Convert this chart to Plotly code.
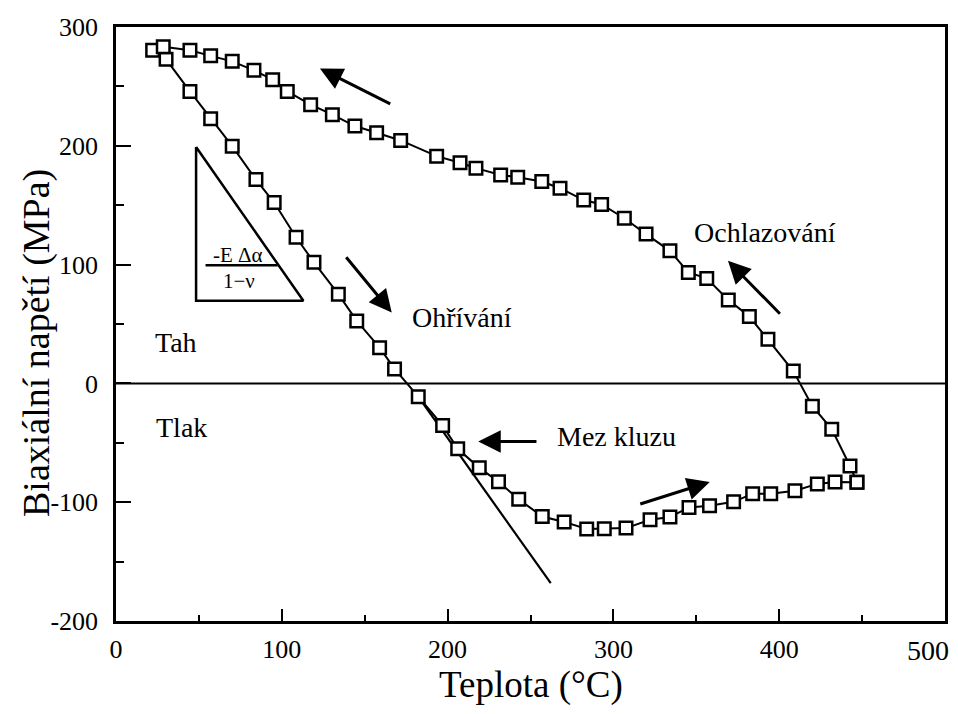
import plotly.graph_objects as go

# Heating branch (Ohřívání): temperature (°C) and stress (MPa)
heat_T = [22.1, 30.2, 44.6, 57.1, 70.1, 84.4, 95.4, 108.6, 119.4, 134.1, 145.2, 159.0, 168.0,
          182.3, 197.0, 206.1, 219.1, 230.7, 242.9, 257.1, 270.3, 283.9, 294.5, 307.6, 322.1,
          334.1, 345.6, 358.0, 372.5, 384.0, 394.9, 409.5, 423.0, 433.7, 446.9]
heat_S = [280.4, 272.8, 245.8, 222.8, 199.7, 171.6, 152.2, 123.0, 101.9, 75.1, 52.6, 30.1, 12.2,
          -11.2, -35.4, -55.1, -71.1, -82.7, -97.6, -112.0, -116.6, -122.6, -122.4, -121.8, -114.8,
          -112.5, -104.4, -103.0, -99.7, -92.8, -92.8, -90.3, -84.6, -83.0, -83.3]

# Cooling branch (Ochlazování)
cool_T = [446.9, 442.7, 431.7, 420.0, 408.5, 393.2, 382.0, 369.3, 356.3, 345.2, 334.1, 319.7,
          306.6, 292.9, 282.1, 267.8, 256.8, 242.3, 232.0, 217.1, 207.5, 193.4, 171.7, 157.2,
          144.1, 130.5, 117.4, 103.3, 94.5, 83.2, 70.1, 57.1, 44.6, 28.5]
cool_S = [-83.3, -69.5, -38.5, -19.2, 10.4, 37.1, 56.3, 70.3, 88.4, 93.4, 111.6, 125.7,
          139.0, 150.6, 154.3, 164.3, 169.9, 173.6, 175.5, 181.2, 185.7, 191.3, 204.5, 211.0,
          216.6, 226.2, 234.6, 245.8, 255.7, 263.5, 271.1, 275.7, 280.4, 283.3]

# Elastic line (-E Δα / (1-ν)) and slope triangle
elastic_T = [182.3, 262.2]
elastic_S = [-11.2, -168.2]
tri_T = [48.3, 48.3, 113.0, 48.3]
tri_S = [199.0, 69.5, 69.5, 199.0]

zero_T = [0, 500]
zero_S = [0, 0]

x_ticks = [0, 100, 200, 300, 400, 500]
x_labels = ["0", "100", "200", "300", "400", "500"]
y_ticks = [-200, -100, 0, 100, 200, 300]
y_labels = ["-200", "-100", "0", "100", "200", "300"]

SERIF = "Liberation Serif, Times New Roman, serif"

fig = go.Figure()
fig.add_trace(go.Scatter(x=zero_T, y=zero_S, mode="lines",
                         line=dict(color="black", width=2), hoverinfo="skip"))
fig.add_trace(go.Scatter(x=elastic_T, y=elastic_S, mode="lines",
                         line=dict(color="black", width=2.2)))
fig.add_trace(go.Scatter(x=tri_T, y=tri_S, mode="lines",
                         line=dict(color="black", width=2.5)))
for T, S in [(heat_T, heat_S), (cool_T, cool_S)]:
    fig.add_trace(go.Scatter(x=T, y=S, mode="lines+markers",
                             line=dict(color="black", width=2),
                             marker=dict(symbol="square", size=12.5, color="white",
                                         line=dict(color="black", width=2.5))))

ann = []
def text(x, y, s, size=28):
    ann.append(dict(x=x, y=y, xref="x", yref="y", text=s, showarrow=False,
                    font=dict(family=SERIF, size=size, color="black")))

text(36, 34.5, "Tah")
text(39.5, -37, "Tlak")
text(208.7, 55.7, "Ohřívání")
text(391.7, 127.4, "Ochlazování")
text(301.6, -44.7, "Mez kluzu")
text(73.5, 108.5, "-E Δα", size=21)
text(74, 86, "1−ν", size=21)

def arrow(x0, y0, x1, y1):
    ann.append(dict(x=x1, y=y1, ax=x0, ay=y0, xref="x", yref="y", axref="x", ayref="y",
                    text="", showarrow=True, arrowhead=2, arrowsize=1.5, arrowwidth=3,
                    arrowcolor="black"))

arrow(166.3, 234.6, 123.0, 265.0)
arrow(138.1, 107.4, 166.3, 59.7)
arrow(401.3, 57.4, 369.1, 103.2)
arrow(254.5, -49.0, 218.5, -49.0)
arrow(315.3, -101.9, 358.1, -83.0)

# fraction bar
fig.add_shape(type="line", x0=54, x1=97.5, y0=99.5, y1=99.5, xref="x", yref="y",
              line=dict(color="black", width=2.5))

# last x tick label placed inside the page edge
ann.append(dict(x=x_ticks[-1], y=0, xref="x", yref="paper", text=x_labels[-1],
                showarrow=False, xanchor="right", yanchor="top", xshift=6, yshift=-12,
                font=dict(family=SERIF, size=28, color="black")))
x_text = x_labels[:-1] + [""]

# Axis titles
ann.append(dict(x=0.5, y=-0.107, xref="paper", yref="paper", text="Teplota (°C)",
                showarrow=False, yanchor="middle",
                font=dict(family=SERIF, size=37, color="black")))
ann.append(dict(x=-0.0965, y=0.468, xref="paper", yref="paper", text="Biaxiální napětí (MPa)",
                showarrow=False, textangle=-90, xanchor="center", yanchor="middle",
                font=dict(family=SERIF, size=38, color="black")))

fig.update_layout(
    width=958, height=714,
    margin=dict(l=116, r=13, t=27, b=93, autoexpand=False),
    paper_bgcolor="white", plot_bgcolor="white",
    showlegend=False,
    annotations=ann,
    font=dict(family=SERIF, color="black"),
)
fig.update_xaxes(range=[0, 500], tickvals=x_ticks, ticktext=x_text, ticks="inside",
                 ticklen=12, tickwidth=2, automargin=False,
                 tickcolor="black", showline=True, linecolor="black", linewidth=2.5,
                 mirror=True, showgrid=False, zeroline=False,
                 tickfont=dict(family=SERIF, size=26, color="black"),
                 ticklabelstandoff=3, ticklabeloverflow="allow",
                 minor=dict(dtick=50, ticks="inside", ticklen=6, tickwidth=2, tickcolor="black"))
fig.update_yaxes(range=[-200, 300], tickvals=y_ticks, ticktext=y_labels, ticks="inside",
                 ticklen=15, tickwidth=2, automargin=False,
                 tickcolor="black", showline=True, linecolor="black", linewidth=2.5,
                 mirror=True, showgrid=False, zeroline=False,
                 tickfont=dict(family=SERIF, size=26, color="black"),
                 ticklabelstandoff=10, ticklabeloverflow="allow",
                 minor=dict(dtick=50, ticks="inside", ticklen=8, tickwidth=2, tickcolor="black"))

fig.write_html("out.html")
